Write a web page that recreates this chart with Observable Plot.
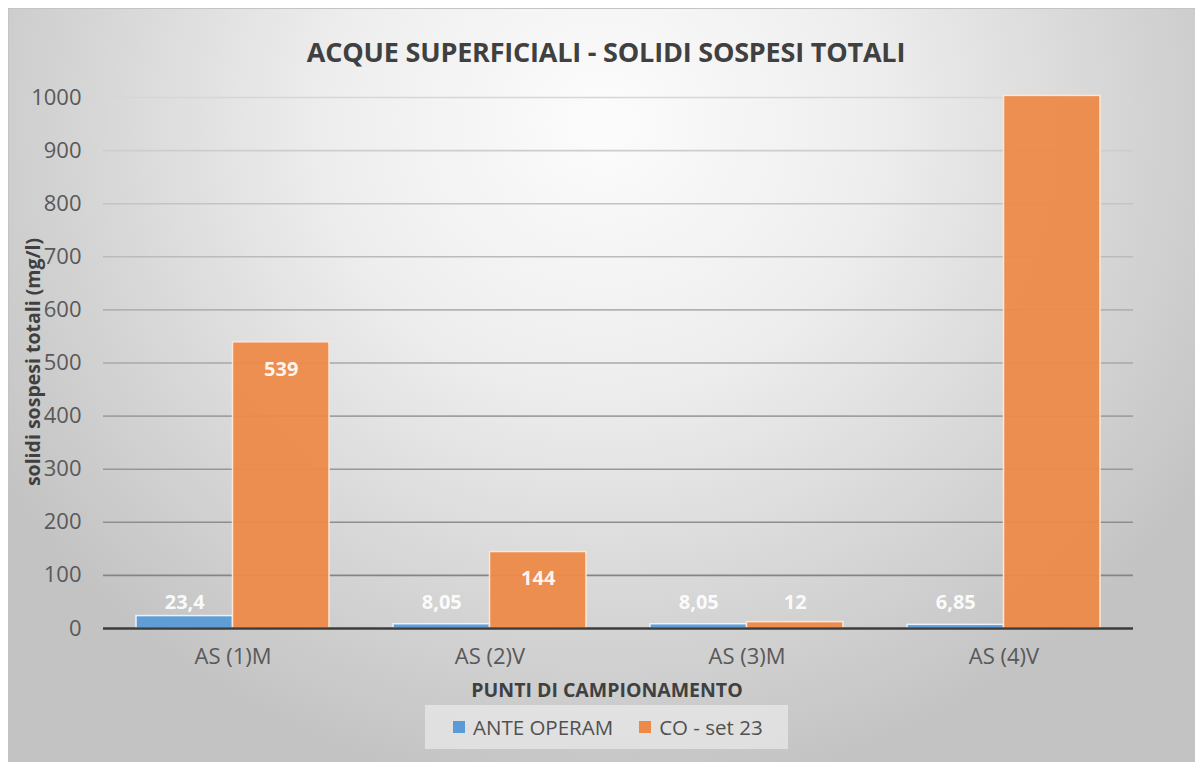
<!DOCTYPE html>
<html>
<head>
<meta charset="utf-8">
<script src="https://cdn.jsdelivr.net/npm/d3@7"></script>
<script src="https://cdn.jsdelivr.net/npm/@observablehq/plot@0.6"></script>
<style>
  html, body { margin: 0; padding: 0; background: #ffffff; }
  #wrap { position: relative; width: 1195px; height: 762px; overflow: hidden; font-family: "Open Sans", sans-serif; }
  #bg { position: absolute; left: 8px; top: 8px; right: 0; bottom: 0;
        border-left: 1px solid #c4c4c4; border-top: 1px solid #c4c4c4;
        background: radial-gradient(ellipse 60% 90% at 50% 15%, #fcfcfc 0%, #eeeeee 38%, #d6d6d6 72%, #c3c3c3 100%); }
  #chart { position: absolute; left: 0; top: 0; }
  #title { position: absolute; left: 0; width: 1212px; top: 33px; text-align: center;
           font-weight: 700; font-size: 27px; color: #404040; letter-spacing: -0.2px; }
  #ylabel { position: absolute; left: 32px; top: 362px; transform: translate(-50%, -50%) rotate(-90deg);
            white-space: nowrap; font-weight: 700; font-size: 19.5px; color: #404040; }
  #xlabel { position: absolute; left: 0; width: 1214px; top: 676px; text-align: center;
            font-weight: 700; font-size: 19.5px; color: #404040; }
  #legend { position: absolute; left: 425px; top: 705px; width: 363px; height: 44px; box-sizing: border-box;
            padding-left: 28px;
            background: rgba(240,240,240,0.6); display: flex; align-items: center; justify-content: flex-start; gap: 26px;
            font-size: 20.5px; color: #505050; }
  .item { display: flex; align-items: center; gap: 8px; }
  .sw { width: 12px; height: 12px; display: inline-block; }
</style>
</head>
<body>
<div id="wrap">
  <div id="bg"></div>
  <div id="chart"></div>
  <div id="title"></div>
  <div id="ylabel"></div>
  <div id="xlabel"></div>
  <div id="legend"></div>
</div>
<script>
// ---- data ----
const titleText = "ACQUE SUPERFICIALI - SOLIDI SOSPESI TOTALI";
const yTitle = "solidi sospesi totali (mg/l)";
const xTitle = "PUNTI DI CAMPIONAMENTO";
const categories = ["AS (1)M", "AS (2)V", "AS (3)M", "AS (4)V"];
const seriesNames = ["ANTE OPERAM", "CO - set 23"];
const seriesColors = ["#5b9bd5", "#ed8a48"];
const anteOperam = [23.4, 8.05, 8.05, 6.85];
const coSet23 = [539, 144, 12, 1003];
const coLabelShown = [true, true, true, false];
const yTicks = [0, 100, 200, 300, 400, 500, 600, 700, 800, 900, 1000];

// ---- build tables ----
const fmt = v => String(v).replace(".", ",");
const anteRows = categories.map((c, i) => ({cat: c, v: anteOperam[i], label: fmt(anteOperam[i])}));
const coRows = categories.map((c, i) => ({cat: c, v: coSet23[i], label: fmt(coSet23[i]), show: coLabelShown[i]}));

const W = 1195, H = 762;
const mTop = 97, mBottom = H - 628, mLeft = 103, mRight = W - 1133;
const bandW = 193; // group width in px (band)
const half = bandW / 2;
const pxPerUnit = (H - mTop - mBottom) / 1000;
const fitsInside = v => v * pxPerUnit > 45;

const gridColor = d3.scaleLinear().domain([100, 1000]).range(["#858585", "#d6d6d6"]);

const labelStyle = {fill: "white", fillOpacity: 0.93, fontWeight: "bold", fontSize: 20, text: "label"};

const chart = Plot.plot({
  width: W, height: H,
  marginTop: mTop, marginBottom: mBottom, marginLeft: mLeft, marginRight: mRight,
  style: {background: "transparent", fontFamily: "Open Sans, sans-serif", fontSize: "22px", color: "#595959", overflow: "visible"},
  x: {domain: categories, paddingInner: 0.25, paddingOuter: 0.125, tickSize: 0, tickPadding: 20, label: null},
  y: {domain: [0, 1000], ticks: yTicks, tickFormat: d => String(d), tickSize: 0, tickPadding: 22, label: null},
  marks: [
    Plot.ruleY(yTicks.filter(t => t > 0), {stroke: d => gridColor(d), strokeWidth: 1.6}),
    Plot.barY(anteRows, {x: "cat", y: "v", fill: seriesColors[0], fillOpacity: 0.95, insetRight: half,
      stroke: "#eaf2fb", strokeWidth: 1.5}),
    Plot.barY(coRows, {x: "cat", y: "v", fill: seriesColors[1], fillOpacity: 0.95, insetLeft: half,
      stroke: "#fde6d3", strokeWidth: 1.5}),
    Plot.ruleY([0], {stroke: "#3c3c3c", strokeWidth: 2.6}),
    Plot.text(anteRows, {x: "cat", y: 0, dx: -half / 2, dy: -26, ...labelStyle}),
    Plot.text(coRows.filter(d => d.show && fitsInside(d.v)), {x: "cat", y: "v", dx: half / 2, dy: 27, ...labelStyle}),
    Plot.text(coRows.filter(d => d.show && !fitsInside(d.v)), {x: "cat", y: 0, dx: half / 2, dy: -26, ...labelStyle})
  ]
});
document.getElementById("chart").appendChild(chart);

document.getElementById("title").textContent = titleText;
document.getElementById("ylabel").textContent = yTitle;
document.getElementById("xlabel").textContent = xTitle;
const legend = document.getElementById("legend");
seriesNames.forEach((name, i) => {
  const it = document.createElement("div");
  it.className = "item";
  const sw = document.createElement("span");
  sw.className = "sw";
  sw.style.background = seriesColors[i];
  const tx = document.createElement("span");
  tx.textContent = name;
  it.appendChild(sw); it.appendChild(tx);
  legend.appendChild(it);
});
</script>
</body>
</html>
